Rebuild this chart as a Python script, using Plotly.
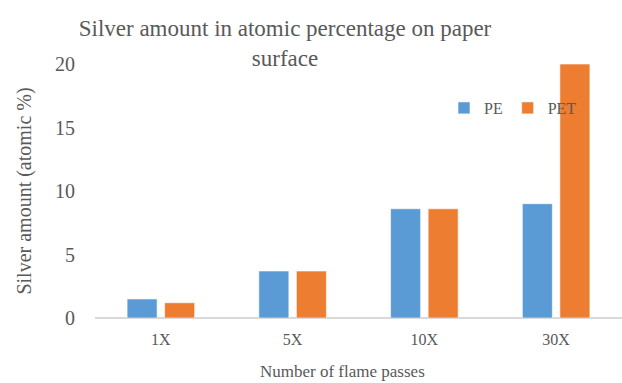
import plotly.graph_objects as go

categories = ["1X", "5X", "10X", "30X"]
pe_values = [1.5, 3.7, 8.6, 9.0]
pet_values = [1.2, 3.7, 8.6, 20.0]
y_ticks = [0, 5, 10, 15, 20]

font_family = "Liberation Serif"
text_color = "#595959"

fig = go.Figure()
fig.add_trace(go.Bar(name="PE", x=categories, y=pe_values,
                     marker=dict(color="#5b9bd5", line=dict(color="#ffffff", width=0.6))))
fig.add_trace(go.Bar(name="PET", x=categories, y=pet_values,
                     marker=dict(color="#ed7d31", line=dict(color="#ffffff", width=0.6))))

fig.update_layout(
    width=622, height=383,
    margin=dict(l=95, r=0, t=64, b=65, autoexpand=False),
    paper_bgcolor="white", plot_bgcolor="white",
    barmode="group", bargap=0.43, bargroupgap=0.2,
    font=dict(family=font_family, color=text_color),
    title=dict(text="Silver amount in atomic percentage on paper<br>surface",
               x=285 / 622, xanchor="center", xref="container",
               y=1 - 36 / 383, yanchor="top", yref="container",
               font=dict(size=23, color=text_color, family=font_family)),
    legend=dict(orientation="h", x=(444 - 95) / 527, xanchor="left", y=(318 - 108) / 254,
                yanchor="middle", yref="paper", bgcolor="rgba(0,0,0,0)",
                font=dict(size=16, color=text_color, family=font_family),
                itemwidth=30, traceorder="normal"),
    showlegend=True,
    annotations=[dict(text="Number of flame passes", xref="paper", yref="paper",
                      x=(342 - 95) / 527, y=-(371 - 318) / 254,
                      xanchor="center", yanchor="middle", showarrow=False,
                      font=dict(size=17, color=text_color, family=font_family))],
)

fig.update_xaxes(showgrid=False, showline=False, ticks="",
                 tickfont=dict(size=16, color=text_color, family=font_family),
                 ticklabelstandoff=10)
fig.update_yaxes(range=[0, 20], tickvals=y_ticks, showgrid=False, showline=False,
                 zeroline=True, zerolinecolor="#d9d9d9", zerolinewidth=2,
                 tickfont=dict(size=20, color=text_color, family=font_family),
                 ticks="", ticklabelstandoff=19,
                 title=dict(text="Silver amount (atomic %)",
                            font=dict(size=20, color=text_color, family=font_family),
                            standoff=18))

fig.write_html("out.html")
